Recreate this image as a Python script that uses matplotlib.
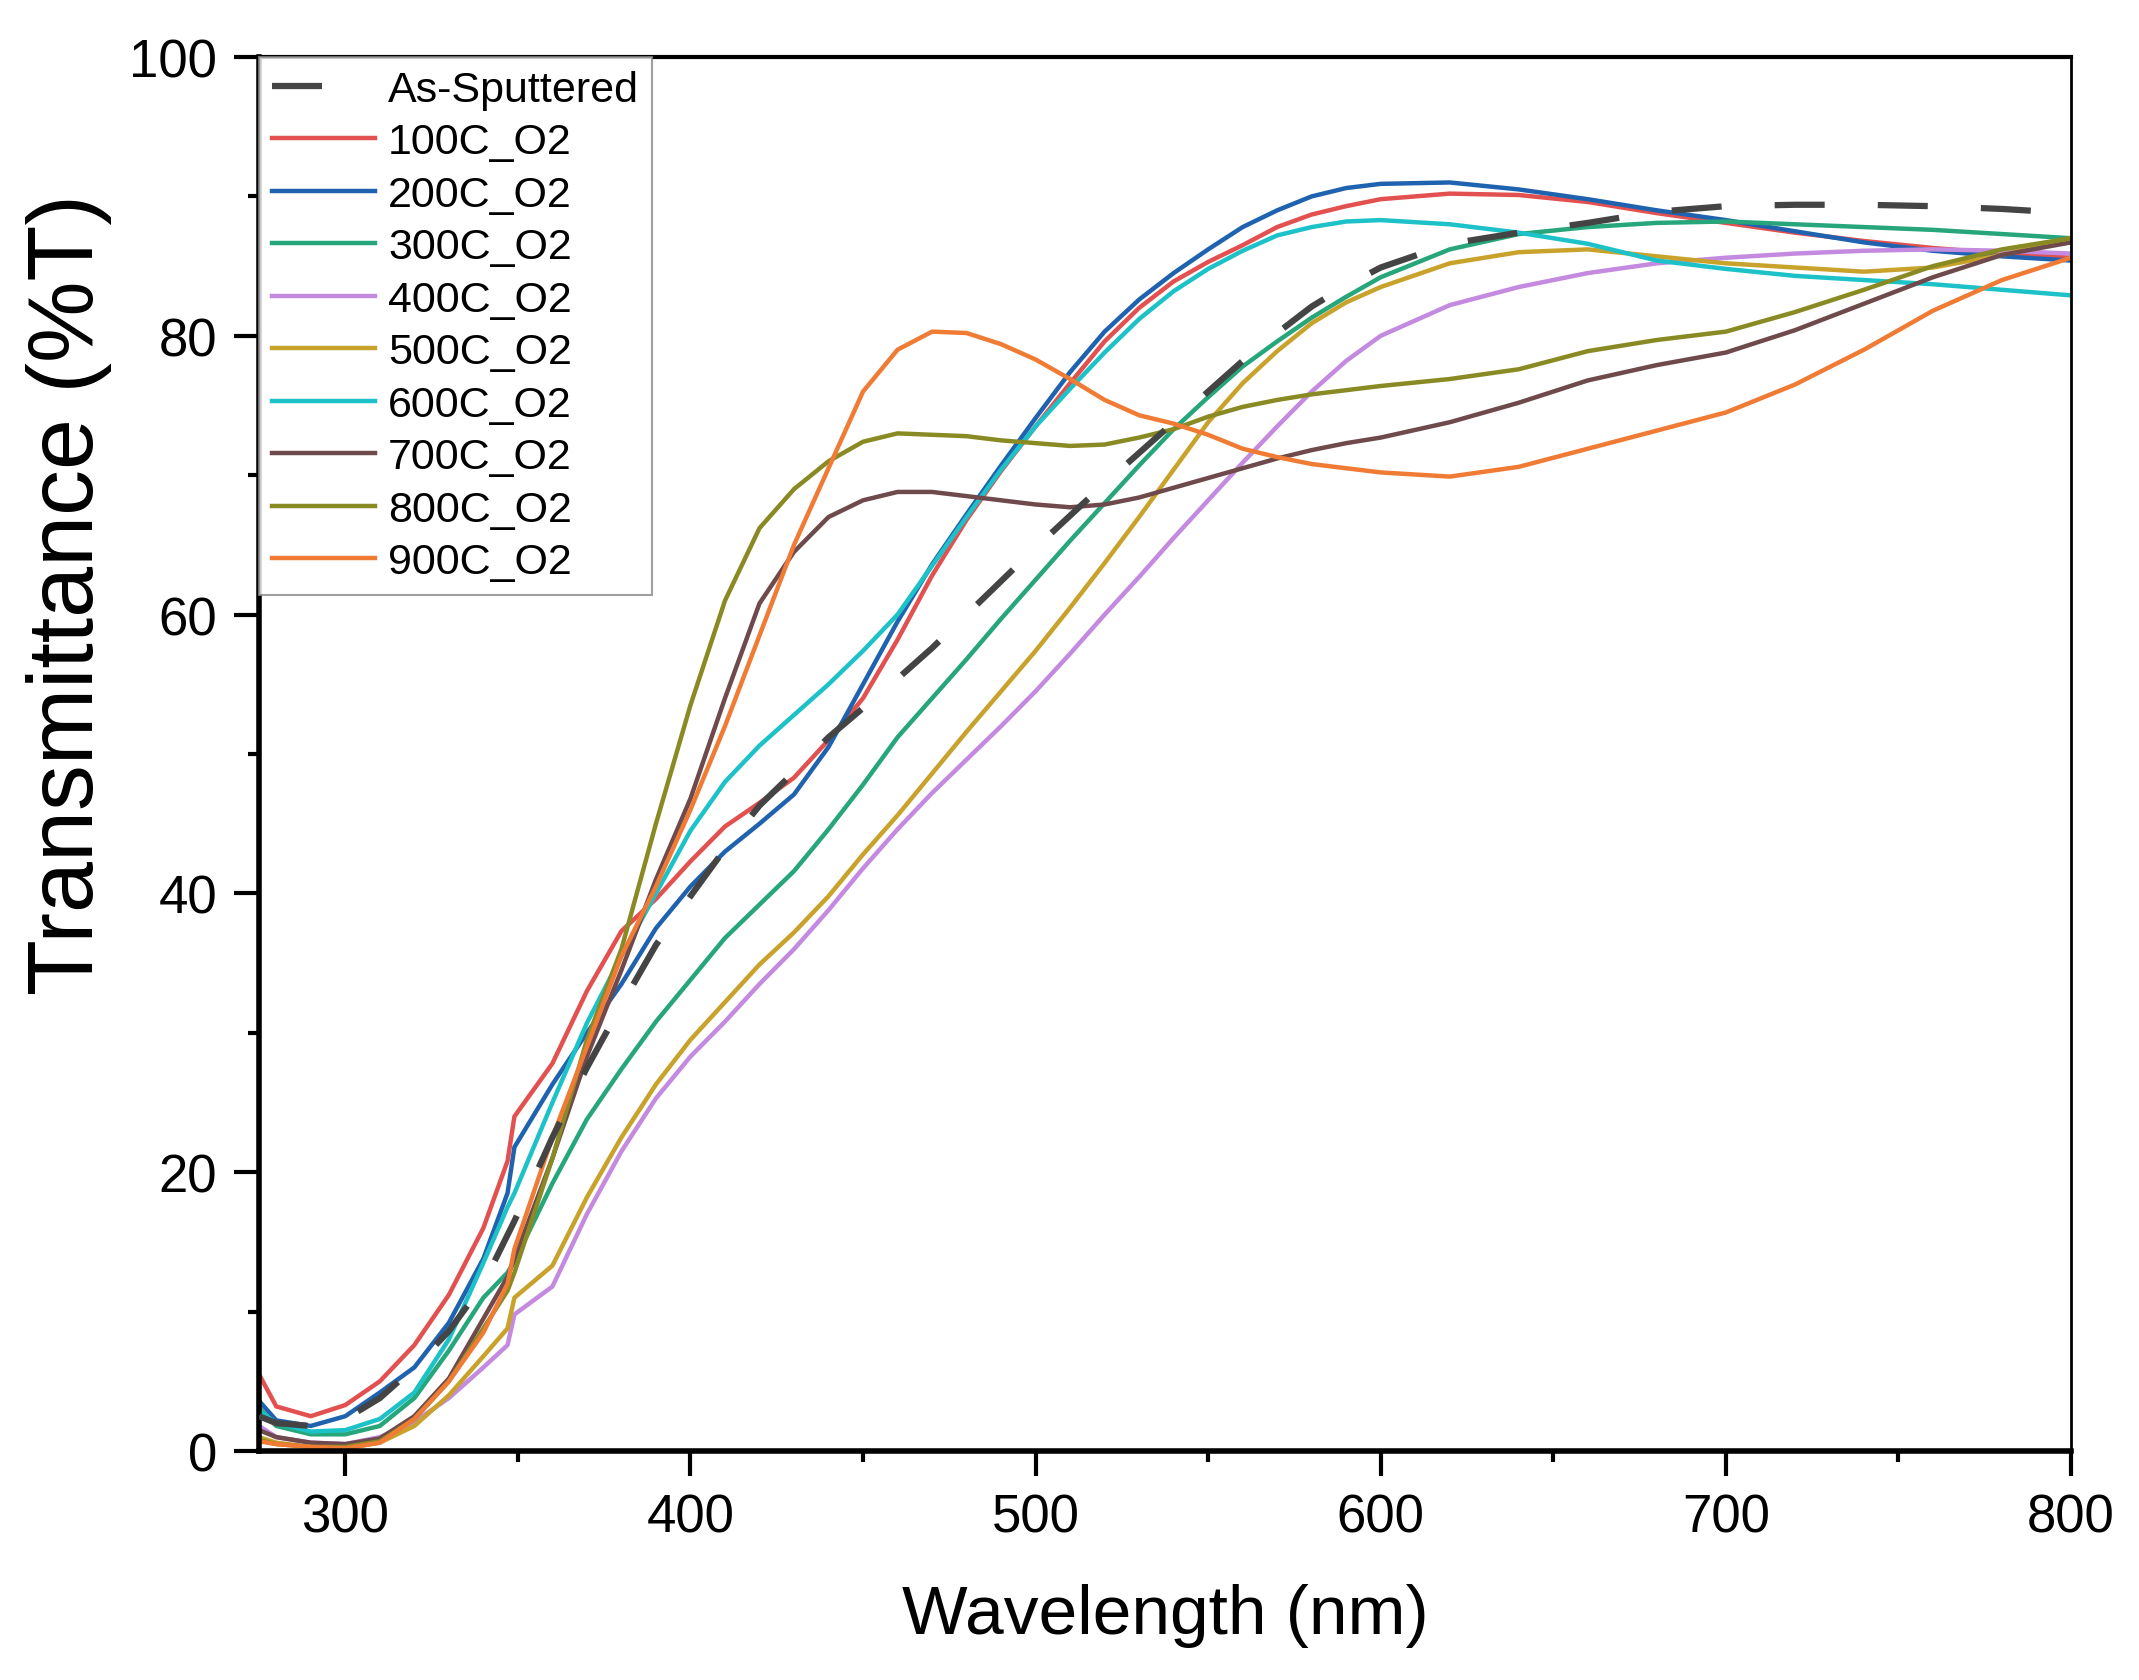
import matplotlib
matplotlib.use("Agg")
import matplotlib.pyplot as plt
from matplotlib.ticker import MultipleLocator

plt.rcParams['font.family'] = ['Liberation Sans', 'DejaVu Sans']

wavelength = [275, 280, 290, 300, 310, 320, 330, 340, 347, 349, 360, 370, 380, 390, 400,
              410, 420, 430, 440, 450, 460, 470, 480, 490, 500, 510, 520, 530, 540, 550,
              560, 570, 580, 590, 600, 620, 640, 660, 680, 700, 720, 740, 760, 780, 800]

as_sputtered = [2.5, 2.0, 1.8, 2.3, 3.8, 6.0, 8.6, 12.0, 15.5, 16.5, 22.5, 27.5, 32.0, 36.3, 39.8,
                43.2, 46.3, 48.7, 51.2, 53.3, 55.4, 57.6, 60.0, 62.4, 64.8, 67.1, 69.4, 71.6, 73.8, 76.0,
                78.2, 80.2, 82.1, 83.6, 84.9, 86.6, 87.4, 88.1, 88.9, 89.3, 89.4, 89.4, 89.3, 89.1, 88.8]
t100 = [5.5, 3.2, 2.5, 3.3, 5.0, 7.6, 11.2, 16.0, 20.8, 24.0, 27.8, 33.0, 37.3, 39.6, 42.3,
        44.8, 46.5, 48.3, 51.0, 54.0, 58.2, 62.8, 66.8, 70.3, 73.5, 76.6, 79.6, 82.0, 83.9, 85.3,
        86.5, 87.8, 88.7, 89.3, 89.8, 90.2, 90.1, 89.6, 88.8, 88.1, 87.4, 86.8, 86.3, 85.9, 85.6]
t200 = [3.6, 2.2, 1.8, 2.5, 4.2, 6.0, 9.2, 13.8, 18.5, 21.8, 26.3, 30.0, 33.5, 37.5, 40.5,
        43.0, 45.0, 47.1, 50.5, 55.0, 59.5, 63.6, 67.2, 70.7, 74.1, 77.4, 80.3, 82.6, 84.5, 86.2,
        87.8, 89.0, 90.0, 90.6, 90.9, 91.0, 90.5, 89.8, 89.0, 88.3, 87.5, 86.7, 86.1, 85.7, 85.4]
t300 = [3.1, 1.8, 1.2, 1.2, 1.8, 3.8, 7.2, 11.0, 12.8, 13.6, 19.2, 23.8, 27.4, 30.8, 33.8,
        36.8, 39.2, 41.6, 44.6, 47.8, 51.2, 54.0, 56.8, 59.7, 62.5, 65.3, 68.0, 70.7, 73.3, 75.6,
        77.8, 79.6, 81.3, 82.8, 84.2, 86.2, 87.3, 87.8, 88.1, 88.2, 88.0, 87.8, 87.6, 87.3, 87.0]
t400 = [1.8, 1.0, 0.6, 0.5, 1.0, 2.1, 3.8, 6.0, 7.6, 9.8, 11.8, 17.0, 21.5, 25.3, 28.3,
        30.8, 33.5, 36.0, 38.8, 41.8, 44.6, 47.2, 49.6, 52.0, 54.5, 57.2, 60.0, 62.7, 65.5, 68.2,
        70.9, 73.5, 76.0, 78.2, 80.0, 82.2, 83.5, 84.5, 85.2, 85.6, 85.9, 86.1, 86.2, 86.1, 85.9]
t500 = [1.0, 0.6, 0.3, 0.2, 0.6, 1.8, 4.0, 6.8, 8.8, 11.0, 13.3, 18.2, 22.5, 26.3, 29.5,
        32.2, 34.9, 37.2, 39.8, 42.8, 45.6, 48.6, 51.6, 54.5, 57.4, 60.5, 63.7, 67.0, 70.4, 73.8,
        76.6, 78.9, 80.9, 82.4, 83.5, 85.2, 86.0, 86.2, 85.7, 85.2, 84.9, 84.6, 84.9, 85.8, 87.0]
t600 = [2.9, 2.0, 1.4, 1.5, 2.3, 4.2, 8.0, 13.5, 17.5, 18.5, 25.0, 30.7, 35.5, 40.0, 44.5,
        48.0, 50.6, 52.8, 55.0, 57.4, 60.0, 63.5, 67.0, 70.4, 73.5, 76.2, 78.8, 81.2, 83.2, 84.8,
        86.1, 87.2, 87.8, 88.2, 88.3, 88.0, 87.4, 86.6, 85.4, 84.8, 84.3, 84.0, 83.7, 83.3, 82.9]
t700 = [1.5, 1.0, 0.6, 0.5, 0.9, 2.5, 5.2, 9.5, 12.5, 13.8, 21.0, 28.3, 34.5, 41.0, 46.8,
        54.0, 60.8, 64.5, 67.0, 68.2, 68.8, 68.8, 68.5, 68.2, 67.9, 67.7, 67.9, 68.4, 69.1, 69.8,
        70.5, 71.2, 71.8, 72.3, 72.7, 73.8, 75.2, 76.8, 77.9, 78.8, 80.4, 82.3, 84.2, 85.8, 86.7]
t800 = [0.8, 0.5, 0.3, 0.3, 0.7, 2.3, 5.0, 8.8, 11.5, 12.8, 21.0, 29.5, 36.0, 45.0, 53.5,
        61.0, 66.2, 69.0, 71.0, 72.4, 73.0, 72.9, 72.8, 72.5, 72.3, 72.1, 72.2, 72.7, 73.3, 74.2,
        74.9, 75.4, 75.8, 76.1, 76.4, 76.9, 77.6, 78.9, 79.7, 80.3, 81.7, 83.3, 85.0, 86.2, 87.0]
t900 = [0.7, 0.5, 0.3, 0.2, 0.6, 2.3, 5.0, 8.5, 12.0, 14.5, 22.5, 29.0, 35.5, 40.5, 46.0,
        52.0, 58.5, 65.0, 70.5, 76.0, 79.0, 80.3, 80.2, 79.4, 78.3, 76.9, 75.4, 74.3, 73.7, 72.9,
        71.9, 71.3, 70.8, 70.5, 70.2, 69.9, 70.6, 71.9, 73.2, 74.5, 76.5, 79.0, 81.8, 84.0, 85.6]

labels = ["100C_O2", "200C_O2", "300C_O2", "400C_O2", "500C_O2",
          "600C_O2", "700C_O2", "800C_O2", "900C_O2"]
series = [t100, t200, t300, t400, t500, t600, t700, t800, t900]
colors = ["#e2504f", "#1f62b0", "#26a67a", "#c38ae0", "#c9a22c",
          "#1cc2c8", "#6e4a4c", "#8a8a24", "#f07b34"]

fig = plt.figure(figsize=(21.39, 16.81), dpi=100)
ax = fig.add_axes([0.1211, 0.1362, 0.8471, 0.8293])

ax.plot(wavelength, as_sputtered, color="#444444", lw=4.5, dashes=(8, 8.5),
        label="As-Sputtered", zorder=3)
for y, lab, c in zip(series, labels, colors):
    ax.plot(wavelength, y, color=c, lw=3.2, label=lab)

ax.set_xlim(275, 800)
ax.set_ylim(0, 100)
ax.xaxis.set_major_locator(MultipleLocator(100))
ax.xaxis.set_minor_locator(MultipleLocator(50))
ax.yaxis.set_major_locator(MultipleLocator(20))
ax.yaxis.set_minor_locator(MultipleLocator(10))

ax.tick_params(which="major", direction="out", length=18, width=3, labelsize=38, pad=12)
ax.tick_params(which="minor", direction="out", length=8, width=3)
ax.tick_params(top=False, right=False, which="both")

ax.spines["left"].set_linewidth(4)
ax.spines["bottom"].set_linewidth(4)
ax.spines["top"].set_linewidth(3)
ax.spines["right"].set_linewidth(2)

ax.set_xlabel("Wavelength (nm)", fontsize=50)
ax.set_ylabel("Transmittance (%T)", fontsize=66)
ax.xaxis.set_label_coords(0.5, -0.095)
ax.yaxis.set_label_coords(-0.081, 0.615)

leg = ax.legend(loc="upper left", fontsize=31, frameon=True, fancybox=False,
                borderaxespad=0.0, handlelength=2.4, handletextpad=0.3,
                labelspacing=0.29, borderpad=0.3)
leg.get_frame().set_edgecolor("#888888")
leg.get_frame().set_linewidth(1.5)

fig.savefig("out.png", dpi=100, facecolor="white")
